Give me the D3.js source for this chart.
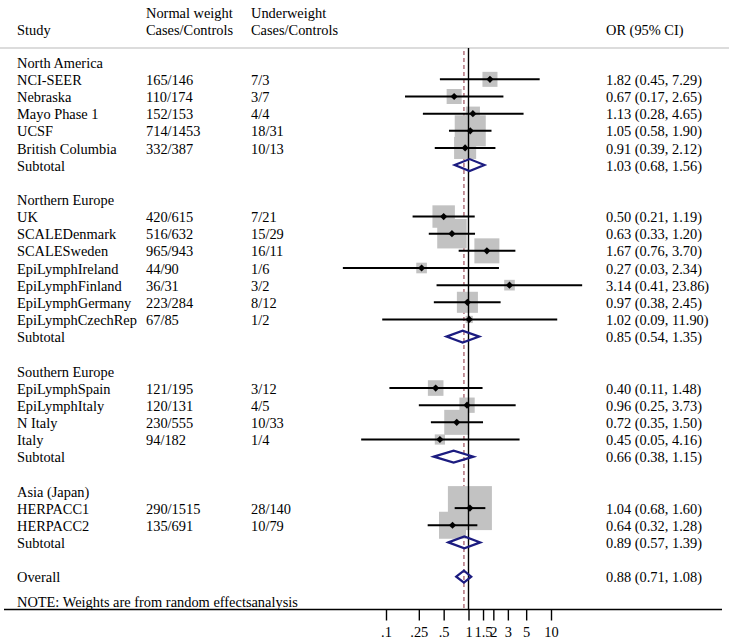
<!DOCTYPE html>
<html>
<head>
<meta charset="utf-8">
<script src="https://cdn.jsdelivr.net/npm/d3@7"></script>
<style>
  html, body { margin: 0; padding: 0; background: #fff; }
  svg { display: block; }
  text { font-family: "Liberation Serif", "Times New Roman", serif; font-size: 14.4px; fill: #000; }
</style>
</head>
<body>
<script>
// ---------------- DATA ----------------
const groupNames = ["North America", "Northern Europe", "Southern Europe", "Asia (Japan)"];

const studyNames = ["NCI-SEER", "Nebraska", "Mayo Phase 1", "UCSF", "British Columbia",
  "UK", "SCALEDenmark", "SCALESweden", "EpiLymphIreland", "EpiLymphFinland", "EpiLymphGermany", "EpiLymphCzechRep",
  "EpiLymphSpain", "EpiLymphItaly", "N Italy", "Italy",
  "HERPACC1", "HERPACC2"];
const studyGroup = [0, 0, 0, 0, 0, 1, 1, 1, 1, 1, 1, 1, 2, 2, 2, 2, 3, 3];
const normalCC = ["165/146", "110/174", "152/153", "714/1453", "332/387",
  "420/615", "516/632", "965/943", "44/90", "36/31", "223/284", "67/85",
  "121/195", "120/131", "230/555", "94/182",
  "290/1515", "135/691"];
const underCC = ["7/3", "3/7", "4/4", "18/31", "10/13",
  "7/21", "15/29", "16/11", "1/6", "3/2", "8/12", "1/2",
  "3/12", "4/5", "10/33", "1/4",
  "28/140", "10/79"];
const studyOR = [1.82, 0.67, 1.13, 1.05, 0.91, 0.50, 0.63, 1.67, 0.27, 3.14, 0.97, 1.02, 0.40, 0.96, 0.72, 0.45, 1.04, 0.64];
const studyLo = [0.45, 0.17, 0.28, 0.58, 0.39, 0.21, 0.33, 0.76, 0.03, 0.41, 0.38, 0.09, 0.11, 0.25, 0.35, 0.05, 0.68, 0.32];
const studyHi = [7.29, 2.65, 4.65, 1.90, 2.12, 1.19, 1.20, 3.70, 2.34, 23.86, 2.45, 11.90, 1.48, 3.73, 1.50, 4.16, 1.60, 1.28];
const studyWeight = [2.6, 2.6, 2.3, 11.1, 5.6, 5.8, 10.0, 7.2, 1.3, 1.3, 5.1, 0.6, 2.8, 2.7, 7.2, 1.2, 22.3, 8.4];

const subOR = [1.03, 0.85, 0.66, 0.89];
const subLo = [0.68, 0.54, 0.38, 0.57];
const subHi = [1.56, 1.35, 1.15, 1.39];

const overallOR = 0.88, overallLo = 0.71, overallHi = 1.08;

const tickValues = [0.1, 0.25, 0.5, 1, 1.5, 2, 3, 5, 10];
const tickLabels = [".1", ".25", ".5", "1", "1.5", "2", "3", "5", "10"];

const headerStudy = "Study";
const headerNormal = ["Normal weight", "Cases/Controls"];
const headerUnder = ["Underweight", "Cases/Controls"];
const headerOR = "OR (95% CI)";
const noteText = "NOTE: Weights are from random effectsanalysis";

// ---------------- BUILD ROWS ----------------
const fmt = v => v.toFixed(2);
const ciText = (o, l, h) => `${fmt(o)} (${fmt(l)}, ${fmt(h)})`;

const rows = [];
groupNames.forEach((g, gi) => {
  rows.push({ type: "group", label: g });
  studyNames.forEach((s, i) => {
    if (studyGroup[i] !== gi) return;
    rows.push({ type: "study", label: s, normal: normalCC[i], under: underCC[i],
      or: studyOR[i], lo: studyLo[i], hi: studyHi[i], w: studyWeight[i] });
  });
  rows.push({ type: "sub", label: "Subtotal", or: subOR[gi], lo: subLo[gi], hi: subHi[gi] });
  rows.push({ type: "blank" });
});
rows.push({ type: "overall", label: "Overall", or: overallOR, lo: overallLo, hi: overallHi });
rows.forEach((r, i) => r.idx = i);

// ---------------- LAYOUT ----------------
const W = 729, H = 644;
const svg = d3.select("body").append("svg").attr("width", W).attr("height", H);

const x = d3.scaleLog().domain([0.1, 10]).range([386, 551]);
const rowStep = 17.15, row0 = 62.2;
const y = i => row0 + i * rowStep;
const textDy = 5.6;
const colStudy = 17, colNormal = 146, colUnder = 251, colOR = 606;
const lineTop = 48, axisY = 609.5;
const boxK = 44 / Math.sqrt(22.3);

// header
svg.append("text").attr("x", colStudy).attr("y", 35).text(headerStudy);
headerNormal.forEach((t, i) => svg.append("text").attr("x", colNormal).attr("y", 18 + i * 17).text(t));
headerUnder.forEach((t, i) => svg.append("text").attr("x", colUnder).attr("y", 18 + i * 17).text(t));
svg.append("text").attr("x", colOR).attr("y", 35).text(headerOR);

svg.append("line").attr("x1", 0).attr("x2", W).attr("y1", lineTop).attr("y2", lineTop)
  .attr("stroke", "#dcdcdc").attr("stroke-width", 2);

// dashed overall reference line
svg.append("line").attr("x1", x(overallOR)).attr("x2", x(overallOR))
  .attr("y1", lineTop + 3).attr("y2", axisY)
  .attr("stroke", "#b67c86").attr("stroke-width", 1.6).attr("stroke-dasharray", "4,3");

// boxes
const studyRows = rows.filter(r => r.type === "study");
svg.append("g").selectAll("rect").data(studyRows).join("rect")
  .attr("x", d => x(d.or) - boxK * Math.sqrt(d.w) / 2)
  .attr("y", d => y(d.idx) - boxK * Math.sqrt(d.w) / 2)
  .attr("width", d => boxK * Math.sqrt(d.w))
  .attr("height", d => boxK * Math.sqrt(d.w))
  .attr("fill", "#c2c2c2");

// null line (OR = 1)
svg.append("line").attr("x1", x(1)).attr("x2", x(1))
  .attr("y1", lineTop).attr("y2", axisY)
  .attr("stroke", "#000").attr("stroke-width", 1.4);

// CI lines
svg.append("g").selectAll("line").data(studyRows).join("line")
  .attr("x1", d => x(d.lo)).attr("x2", d => x(d.hi))
  .attr("y1", d => y(d.idx)).attr("y2", d => y(d.idx))
  .attr("stroke", "#000").attr("stroke-width", 2);

// point markers
const ms = 3.6;
svg.append("g").selectAll("path").data(studyRows).join("path")
  .attr("d", d => {
    const cx = x(d.or), cy = y(d.idx);
    return `M${cx - ms},${cy}L${cx},${cy - ms}L${cx + ms},${cy}L${cx},${cy + ms}Z`;
  })
  .attr("fill", "#000");

// diamonds
const dh = 6;
const diaRows = rows.filter(r => r.type === "sub" || r.type === "overall");
svg.append("g").selectAll("path").data(diaRows).join("path")
  .attr("d", d => {
    const cy = y(d.idx);
    return `M${x(d.lo)},${cy}L${x(d.or)},${cy - dh}L${x(d.hi)},${cy}L${x(d.or)},${cy + dh}Z`;
  })
  .attr("fill", "none").attr("stroke", "#1c1c80").attr("stroke-width", 2.2);

// texts
const textRows = rows.filter(r => r.type !== "blank");
const tg = svg.append("g");
tg.selectAll("text.lab").data(textRows).join("text").attr("class", "lab")
  .attr("x", colStudy).attr("y", d => y(d.idx) + textDy).text(d => d.label);
tg.selectAll("text.nor").data(studyRows).join("text").attr("class", "nor")
  .attr("x", colNormal).attr("y", d => y(d.idx) + textDy).text(d => d.normal);
tg.selectAll("text.und").data(studyRows).join("text").attr("class", "und")
  .attr("x", colUnder).attr("y", d => y(d.idx) + textDy).text(d => d.under);
tg.selectAll("text.ci").data(textRows.filter(r => r.type !== "group")).join("text").attr("class", "ci")
  .attr("x", colOR).attr("y", d => y(d.idx) + textDy).text(d => ciText(d.or, d.lo, d.hi));

// note
svg.append("text").attr("x", colStudy).attr("y", 607).text(noteText);

// axis
svg.append("line").attr("x1", 4).attr("x2", 722).attr("y1", axisY).attr("y2", axisY)
  .attr("stroke", "#000").attr("stroke-width", 1.4);
const axis = d3.axisBottom(x).tickValues(tickValues)
  .tickFormat((d, i) => tickLabels[i]).tickSize(11).tickPadding(6);
const ag = svg.append("g").attr("transform", `translate(0,${axisY})`).call(axis);
ag.select(".domain").remove();
ag.selectAll(".tick line").attr("stroke", "#000").attr("stroke-width", 1.4);
ag.selectAll(".tick text").style("font-family", "'Liberation Serif', serif").style("font-size", "14.4px").attr("fill", "#000");
</script>
</body>
</html>
